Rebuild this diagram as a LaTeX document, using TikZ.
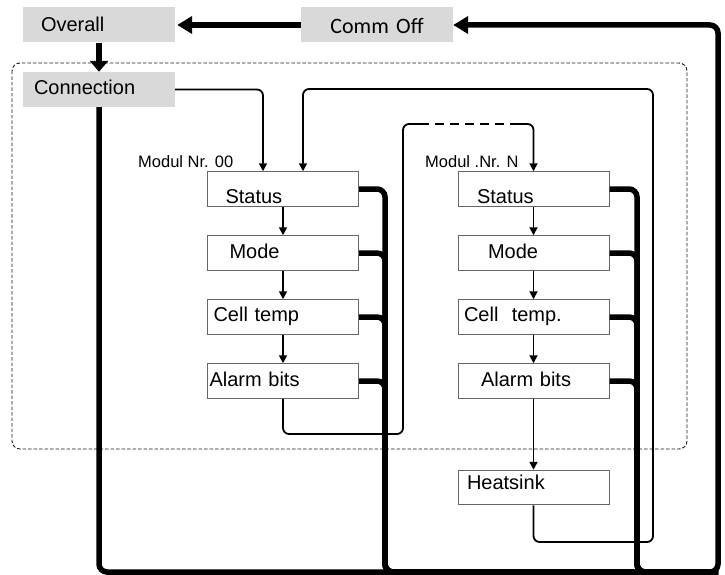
\documentclass[tikz,border=0pt]{standalone}
\usepackage{fontspec}
\setmainfont{Liberation Sans}
\newfontfamily\calib{Carlito}
\usetikzlibrary{arrows.meta}
\begin{document}
\begin{tikzpicture}[x=1pt,y=-1pt,
  mbox/.style={draw=black!60, line width=1pt, fill=white, minimum height=34.5pt,
    inner ysep=0pt, align=left, font=\fontsize{20}{24}\selectfont, text depth=0pt},
  gbox/.style={fill=black!15, minimum height=35pt, inner ysep=0pt,
    font=\fontsize{20}{24}\selectfont, text depth=0pt},
  lbl/.style={anchor=base west, inner sep=0pt, font=\fontsize{16.5}{20}\selectfont},
  frame/.style={draw=black!90, line width=0.9pt, dash pattern=on 3.5pt off 2pt, rounded corners=8pt},
  bus/.style={line width=5.5pt, rounded corners=8pt},
  wire/.style={line width=1.8pt, rounded corners=6pt},
  tip/.style={-{Triangle[length=8pt,width=8pt]}},
  bigtip/.style={-{Triangle[length=15pt,width=17pt]}}
]
\useasboundingbox (0,0) rectangle (725,575);

% dashed frame
\draw[frame] (12,63) rectangle (687,449);

% top boxes
\node[gbox, align=left, inner xsep=18pt, text width=116pt, text height=13pt] (ov) at (99,25) {Overall};
\node[gbox, align=center, inner xsep=0pt, text width=152pt, text height=17pt, font=\calib\fontsize{22}{26}\selectfont] (co) at (377,25) {Comm Off};
\node[gbox, align=left, inner xsep=11pt, text width=130pt, text height=11pt] (conn) at (99,89.5) {Connection};

% module labels
\node[lbl] (m0) at (138,167) {Modul Nr. 00};
\node[lbl] (mn) at (425,167) {Modul .Nr. N};

% left module
\node[mbox, inner xsep=18pt, text width=115pt, text height=28pt] (ls) at (283,189) {Status};
\node[mbox, inner xsep=22pt, text width=107pt, text height=10pt] (lm) at (283,253) {Mode};
\node[mbox, inner xsep=6pt, text width=139pt, text height=8pt] (lc) at (283,317) {Cell temp};
\node[mbox, inner xsep=2pt, text width=147pt, text height=10pt] (la) at (283,381) {Alarm bits};

% right module
\node[mbox, inner xsep=19pt, text width=113pt, text height=28pt] (rs) at (533.5,189) {Status};
\node[mbox, inner xsep=30pt, text width=91pt, text height=10pt] (rm) at (533.5,253) {Mode};
\node[mbox, inner xsep=6pt, text width=139pt, text height=8pt] (rc) at (533.5,317) {Cell~~temp.};
\node[mbox, inner xsep=23pt, text width=105pt, text height=10pt] (ra) at (533.5,381) {Alarm bits};
\node[mbox, inner xsep=9pt, text width=133pt, text height=3pt] (hs) at (533.5,487.5) {Heatsink};

% coordinates
\coordinate (br) at (718,572);
\coordinate (lbus) at (385,572);
\coordinate (rbus) at (637,572);
\coordinate (h1) at (653,542);
\coordinate (h2) at (653,89);
\coordinate (d1) at (403,434);
\coordinate (d2) at (420,124);
\coordinate (d3) at (515,124);

% thin chain arrows
\draw[wire, tip] (ls.south) -- (lm.north);
\draw[wire, tip] (lm.south) -- (lc.north);
\draw[wire, tip] (lc.south) -- (la.north);
\draw[wire, tip] (rs.south) -- (rm.north);
\draw[wire, tip] (rm.south) -- (rc.north);
\draw[wire, tip] (rc.south) -- (ra.north);
\draw[wire, tip] (ra.south) -- (hs.north);

% connection to module 00
\draw[wire, tip] (conn.east) -| ([xshift=-20pt]ls.north);
% heatsink loop back to module 00
\draw[wire, tip] (hs.south) |- (h1) -- (h2) -| ([xshift=20pt]ls.north);
% module 00 to module N
\draw[wire] (la.south) |- (d1) |- (d2);
\draw[wire, dash pattern=on 9pt off 6pt] (d2) -- (d3);
\draw[wire, tip] (d3) -| (rs.north);

% thick buses
\foreach \n in {ls,lm,lc,la} \draw[bus] (\n.east) -| (lbus) -- (br);
\foreach \n in {rs,rm,rc,ra} \draw[bus] (\n.east) -| (rbus) -- (br);
\draw[bus, bigtip] (conn.south) |- (br) |- (co.east);
\draw[line width=5.5pt, bigtip] (co.west) -- ([xshift=2pt]ov.east);
\draw[line width=5.5pt, -{Triangle[length=11pt,width=18pt]}] (ov.south) -- (conn.north);
\end{tikzpicture}
\end{document}
